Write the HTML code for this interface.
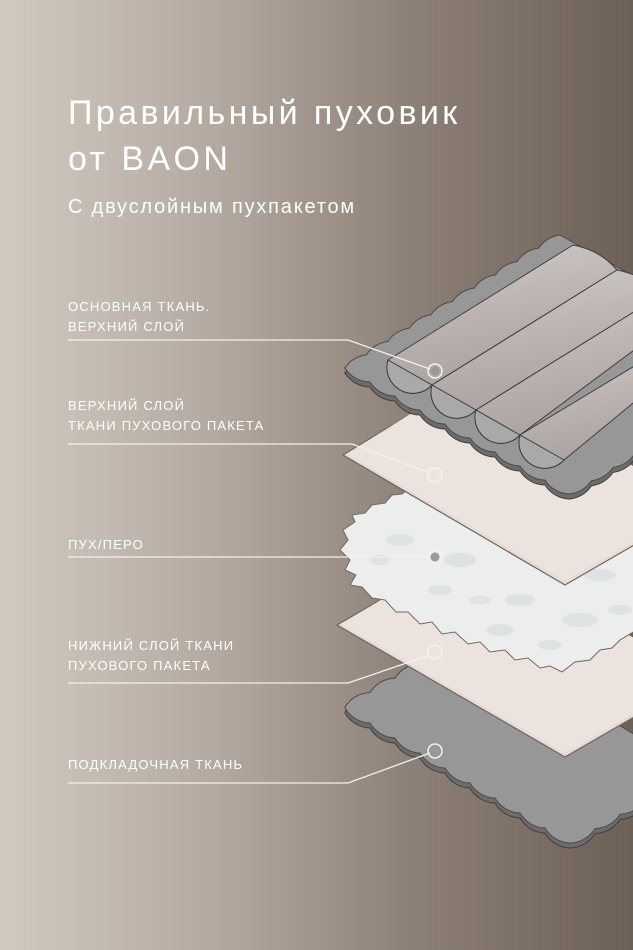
<!DOCTYPE html>
<html><head><meta charset="utf-8"><style>
html,body{margin:0;padding:0;width:633px;height:950px;overflow:hidden}
body{background:linear-gradient(90deg,#d1cac1 0%,#b3a89f 35%,#8d8077 65%,#6d6057 100%);font-family:"Liberation Sans","DejaVu Sans",sans-serif;position:relative}
.t{position:absolute;left:68px;color:#fff;font-size:34px;font-weight:400;letter-spacing:3.4px}
.s{position:absolute;left:68px;top:196px;color:#fff;font-size:20px;letter-spacing:1.8px}
.l{position:absolute;left:68px;color:#fff;font-size:13px;line-height:19.5px;letter-spacing:1.2px}
svg{position:absolute;left:0;top:0}
</style></head><body>
<svg width="633" height="950" viewBox="0 0 633 950">
<defs>
<linearGradient id="roll" x1="0" y1="0" x2="0.3" y2="1"><stop offset="0" stop-color="#d0cecc"/><stop offset="0.55" stop-color="#bcb2af"/><stop offset="1" stop-color="#a8a2a0"/></linearGradient>
<path id="topg" d="M345,368 a30 30 0 0 1 21.5 -13.3 a30 30 0 0 1 21.5 -13.3 a30 30 0 0 1 21.5 -13.3 a30 30 0 0 1 21.5 -13.3 a30 30 0 0 1 21.5 -13.3 a30 30 0 0 1 21.5 -13.3 a30 30 0 0 1 21.5 -13.3 a30 30 0 0 1 21.5 -13.3 a30 30 0 0 1 21.5 -13.3 a30 30 0 0 1 21.5 -13.3 L785,361 a30 30 0 0 1 -21.5 13.3 a30 30 0 0 1 -21.5 13.3 a30 30 0 0 1 -21.5 13.3 a30 30 0 0 1 -21.5 13.3 a30 30 0 0 1 -21.5 13.3 a30 30 0 0 1 -21.5 13.3 a30 30 0 0 1 -21.5 13.3 a30 30 0 0 1 -21.5 13.3 a30 30 0 0 1 -21.5 13.3 a30 30 0 0 1 -21.5 13.3 a30 30 0 0 1 -25 -14 a30 30 0 0 1 -25 -14 a30 30 0 0 1 -25 -14 a30 30 0 0 1 -25 -14 a30 30 0 0 1 -25 -14 a30 30 0 0 1 -25 -14 a30 30 0 0 1 -25 -14 a30 30 0 0 1 -25 -14 a30 30 0 0 1 -25 -14 Z"/>
<path id="botg" d="M345,707 a30 30 0 0 1 25 -14.4 a30 30 0 0 1 25 -14.4 a30 30 0 0 1 25 -14.4 a30 30 0 0 1 25 -14.4 a30 30 0 0 1 25 -14.4 L695,771 a30 30 0 0 1 -25 14.4 a30 30 0 0 1 -25 14.4 a30 30 0 0 1 -25 14.4 a30 30 0 0 1 -25 14.4 a30 30 0 0 1 -25 14.4 a30 30 0 0 1 -25 -15 a30 30 0 0 1 -25 -15 a30 30 0 0 1 -25 -15 a30 30 0 0 1 -25 -15 a30 30 0 0 1 -25 -15 a30 30 0 0 1 -25 -15 a30 30 0 0 1 -25 -15 a30 30 0 0 1 -25 -15 a30 30 0 0 1 -25 -15 Z"/>
</defs>
<use href="#botg" transform="translate(0,5)" fill="#6c6c6c" stroke="#3e3e3e" stroke-width="1"/>
<use href="#botg" fill="#979797" stroke="#4a4a4a" stroke-width="1"/>
<polygon points="337,625 565,757 700,679 470,548" fill="#e6dcd5" stroke="#6e6560" stroke-width="1.2" stroke-linejoin="round"/>
<polygon points="341,624 565,753 700,675 470,546" fill="#ede3de"/>
<polygon points="343,530 355,522 352,515 365,513 372,505 385,503 392,495 402,494 412,486 640,470 640,628 620,640 612,648 600,650 590,660 575,662 562,672 550,666 540,668 528,658 515,660 505,650 490,652 480,642 468,644 455,632 442,634 432,622 420,624 408,612 396,612 385,600 372,598 362,587 350,585 356,575 345,570 350,560 340,550 348,540" fill="#eceeee" stroke="#6e6a68" stroke-width="1"/>
<g fill="#dfe2e2">
<ellipse cx="400" cy="540" rx="14" ry="6"/><ellipse cx="460" cy="560" rx="16" ry="7"/><ellipse cx="520" cy="600" rx="15" ry="6"/><ellipse cx="580" cy="620" rx="18" ry="7"/><ellipse cx="440" cy="590" rx="12" ry="5"/><ellipse cx="500" cy="630" rx="14" ry="6"/><ellipse cx="600" cy="575" rx="16" ry="6"/><ellipse cx="380" cy="560" rx="10" ry="5"/><ellipse cx="550" cy="645" rx="12" ry="5"/><ellipse cx="620" cy="610" rx="12" ry="5"/><ellipse cx="480" cy="600" rx="10" ry="4"/>
</g>
<polygon points="343,455 565,585 700,507 470,378" fill="#e6dcd5" stroke="#6e6560" stroke-width="1.2" stroke-linejoin="round"/>
<polygon points="347,454 565,581 700,503 470,376" fill="#ede3de"/>
<use href="#topg" transform="translate(0,5)" fill="#6c6c6c" stroke="#3e3e3e" stroke-width="1"/>
<use href="#topg" fill="#979797" stroke="#4a4a4a" stroke-width="1"/>
<g stroke="#3e3e3e" stroke-width="1">
<path d="M388,360 L573,245 Q600,250 617,270 L432,385 A26 26 0 0 1 388,360 Z" fill="url(#roll)"/>
<path d="M388,360 A26 26 0 0 0 432,385 Z" fill="#a9a9a9"/>
<path d="M432,385 L617,270 Q644,275 661,295 L476,410 A26 26 0 0 1 432,385 Z" fill="url(#roll)"/>
<path d="M432,385 A26 26 0 0 0 476,410 Z" fill="#a9a9a9"/>
<path d="M476,410 L661,295 L661,330 L520,435 A26 26 0 0 1 476,410 Z" fill="url(#roll)"/>
<path d="M476,410 A26 26 0 0 0 520,435 Z" fill="#a9a9a9"/>
<path d="M520,435 L661,350 L661,380 L564,460 A26 26 0 0 1 520,435 Z" fill="url(#roll)"/>
<path d="M520,435 A26 26 0 0 0 564,460 Z" fill="#a9a9a9"/>
</g>
<g fill="none" stroke="#f4f0ec" stroke-width="1.3">
<polyline points="68,340 348,340 430,369"/>
<polyline points="68,444 352,444 430,473"/>
<polyline points="68,557 428,557"/>
<polyline points="68,683 348,683 430,655"/>
<polyline points="68,783 348,783 430,753"/>
</g>
<g fill="none" stroke="#f6f2ee" stroke-width="1.5">
<circle cx="435" cy="371" r="7"/><circle cx="435" cy="475" r="7"/><circle cx="435" cy="557" r="7"/><circle cx="435" cy="652" r="7"/><circle cx="435" cy="751" r="7"/>
</g>
<g fill="#9a9a9a"><circle cx="435" cy="371" r="4.5"/><circle cx="435" cy="557" r="4.5"/><circle cx="435" cy="751" r="4.5"/></g>
</svg>
<div class="t" style="top:94px">Правильный пуховик</div>
<div class="t" style="top:140px">от BAON</div>
<div class="s">С двуслойным пухпакетом</div>
<div class="l" style="top:297px">ОСНОВНАЯ ТКАНЬ.<br>ВЕРХНИЙ СЛОЙ</div>
<div class="l" style="top:396px">ВЕРХНИЙ СЛОЙ<br>ТКАНИ ПУХОВОГО ПАКЕТА</div>
<div class="l" style="top:535px">ПУХ/ПЕРО</div>
<div class="l" style="top:636px">НИЖНИЙ СЛОЙ ТКАНИ<br>ПУХОВОГО ПАКЕТА</div>
<div class="l" style="top:755px">ПОДКЛАДОЧНАЯ ТКАНЬ</div>
</body></html>
